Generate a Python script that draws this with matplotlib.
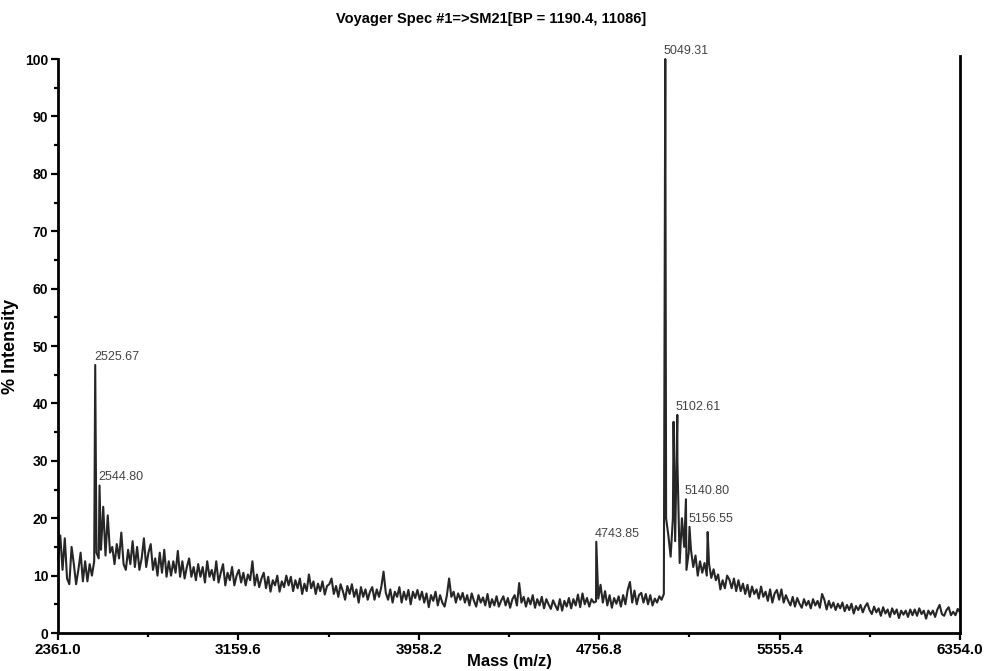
import numpy as np
import matplotlib.pyplot as plt
from matplotlib.ticker import FixedLocator, MultipleLocator

plt.rcParams['font.family'] = ['Liberation Sans', 'DejaVu Sans']

# mass range of the acquisition
mz_min = 2361.0
mz_max = 6354.0

# baseline trace, one reading every ~10 m/z (20 readings per row)
baseline_int = [
    13, 17, 11, 16.5, 9.5, 8.5, 15, 12, 8.5, 11, 14, 9, 12.5, 9, 12, 10, 12.5, 14, 13, 14.5,
    22, 13.5, 20.5, 14, 15, 12, 15.5, 13, 17.5, 12, 11, 14.5, 12, 16, 11.5, 15, 11, 13, 16.5, 11.5,
    14, 15.5, 11, 13, 10, 14, 10.5, 14.5, 9.8, 12.5, 10, 12.5, 10.5, 14.3, 9.8, 12.5, 9.5, 11.5, 13, 9.8,
    11.5, 9.2, 12, 9.8, 11.5, 8.8, 12.5, 9.8, 11, 9.2, 12.5, 8.8, 10.5, 12, 8.3, 10.5, 9.2, 11.5, 8.3, 10,
    11, 8.8, 10.5, 8.3, 10.2, 9.2, 12.5, 8.3, 10.2, 8, 9.5, 10.5, 7.8, 9.8, 7.2, 9.2, 8.3, 10, 7.2, 9,
    8, 10, 8.3, 9.8, 7.3, 9.2, 7.8, 9.5, 6.8, 8.6, 7.3, 10.2, 7.8, 9, 6.8, 8.6, 7.3, 9, 6.7, 8.2,
    8.5, 9.5, 6.8, 8.2, 6.3, 8.5, 7.3, 5.8, 8.2, 6.8, 8.5, 6.3, 7.6, 5.3, 8, 6.3, 7.6, 5.8, 7.2, 8,
    5.8, 7.6, 6.3, 8, 10.7, 7, 5.8, 7.6, 5.3, 7.2, 6.3, 8, 5.3, 7.2, 5.8, 7.5, 5, 7.2, 6.1, 7.5,
    5.8, 7.2, 5.3, 6.9, 4.5, 6.6, 5.6, 7.2, 4.8, 6.6, 5.3, 4.6, 6.5, 9.5, 6.3, 7.2, 5.3, 6.9, 5.8, 7,
    5.3, 6.6, 4.8, 6.9, 5.6, 4.6, 6.6, 5.3, 6.2, 4.8, 6.8, 4.5, 5.9, 4.8, 6.4, 4.6, 5.6, 6.4, 4.8, 6.1,
    4.4, 5.9, 6.6, 4.8, 8.7, 5.3, 6.3, 4.6, 6.1, 5, 6.6, 4.4, 5.9, 4.8, 6.3, 4.3, 5.9, 5, 4.2, 5.7,
    4.8, 4, 5.9, 3.9, 5.6, 4.6, 6.1, 4.3, 5.9, 4.8, 6.7, 4.5, 6.9, 5, 6.1, 4.6, 5.9, 5.3, 5.5, 6,
    8.4, 5.3, 7.3, 4.8, 6.6, 4.4, 6.1, 5.1, 6.4, 4.6, 6.6, 5, 7.5, 8.9, 5.3, 7.4, 5, 6.6, 7, 5.3,
    6.8, 5, 6.6, 4.8, 6.0, 5.3, 6.4, 5.8, 6.8, 20, 17, 13.3, 20, 16, 30, 12.2, 20, 15, 11, 14,
    14.5, 11.5, 13.5, 10, 12.5, 10.5, 12.2, 10, 12, 9.6, 11.1, 9.2, 10.2, 7.6, 9.2, 7.8, 10, 9.3, 7.8, 9.5,
    7.3, 9.2, 7.3, 8.6, 6.8, 8.4, 6.3, 8.1, 6.8, 7.6, 6, 8.1, 6.3, 7.2, 5.6, 7.6, 5.3, 6.9, 7.5, 5.8,
    7.6, 5.3, 6.6, 5.6, 4.8, 6.3, 4.6, 6.1, 5.1, 4.4, 5.9, 4.8, 5.6, 4.3, 5.9, 4.8, 5.6, 4.4, 6.8, 5.8,
    4.1, 5.6, 4.4, 5.3, 4, 5.1, 4.3, 5.3, 3.8, 4.9, 4, 5.1, 3.4, 4.7, 4, 4.9, 3.6, 4.6, 5.2, 4,
    3.3, 4.6, 3.6, 4.3, 3, 4.5, 3.4, 4.1, 2.8, 4.3, 3.3, 4.1, 2.6, 3.9, 3.2, 3.9, 2.8, 4.1, 3.1, 4.1,
    3, 4.3, 3.3, 3.9, 2.5, 3.9, 3.2, 3.9, 2.8, 4.1, 4.9, 3.3, 3, 4, 4.5, 3.1, 3.7, 3.1, 4.2, 3.6,
]

# centroided peaks (m/z, % intensity); labelled ones carry their mass tag
peak_mz = [2525.67, 2544.80, 4743.85, 5049.31, 5086.0, 5102.61, 5140.80, 5156.55, 5237.0]
peak_int = [46.7, 25.7, 15.9, 100.0, 36.8, 38.0, 23.3, 18.5, 17.6]
peak_labels = ['2525.67', '2544.80', '4743.85', '5049.31', None, '5102.61', '5140.80', '5156.55', None]

baseline_mz = np.linspace(mz_min, mz_max, len(baseline_int))
mz = np.concatenate([baseline_mz, peak_mz])
inten = np.concatenate([baseline_int, peak_int])
order = np.argsort(mz)
mz, inten = mz[order], inten[order]

fig = plt.figure(figsize=(9.85, 6.71), dpi=100)
ax = fig.add_axes([0.0589, 0.0566, 0.9157, 0.8554])

ax.plot(mz, inten, color='#262626', lw=1.5, clip_on=False)

for m, v, lab in zip(peak_mz, peak_int, peak_labels):
    if lab is None:
        continue
    ax.annotate(lab, (m, v), xytext=(-1, 1.5), textcoords='offset points',
                ha='left', va='bottom', fontsize=9, color='#444444')

ax.set_xlim(mz_min, mz_max)
ax.set_ylim(0, 100)

step = (mz_max - mz_min) / 5
major_x = [mz_min + step * k for k in range(6)]
ax.xaxis.set_major_locator(FixedLocator(major_x))
ax.xaxis.set_minor_locator(FixedLocator([t + step / 2 for t in major_x[:-1]]))
ax.set_xticklabels([f'{t:.1f}' for t in major_x])
ax.yaxis.set_major_locator(MultipleLocator(10))
ax.yaxis.set_minor_locator(MultipleLocator(5))

ax.spines['top'].set_visible(False)
for side in ['left', 'right', 'bottom']:
    ax.spines[side].set_linewidth(2)
ax.spines['right'].set_bounds(0, 100.5)

ax.tick_params(which='major', direction='out', length=5, width=1.6, pad=2)
ax.tick_params(which='minor', direction='out', length=3, width=1.6)
for t in ax.get_xticklabels():
    t.set_fontweight('bold')
    t.set_fontsize(11)
for t in ax.get_yticklabels():
    t.set_fontweight('bold')
    t.set_fontsize(10)

ax.set_xlabel('Mass (m/z)', fontsize=12, fontweight='bold', labelpad=-2)
ax.set_ylabel('% Intensity', fontsize=13, fontweight='bold', labelpad=4)
fig.text(0.4985, 0.972, 'Voyager Spec #1=>SM21[BP = 1190.4, 11086]',
         ha='center', va='center', fontsize=10.5, fontweight='bold')

fig.savefig('out.png', dpi=100)
plt.close(fig)
